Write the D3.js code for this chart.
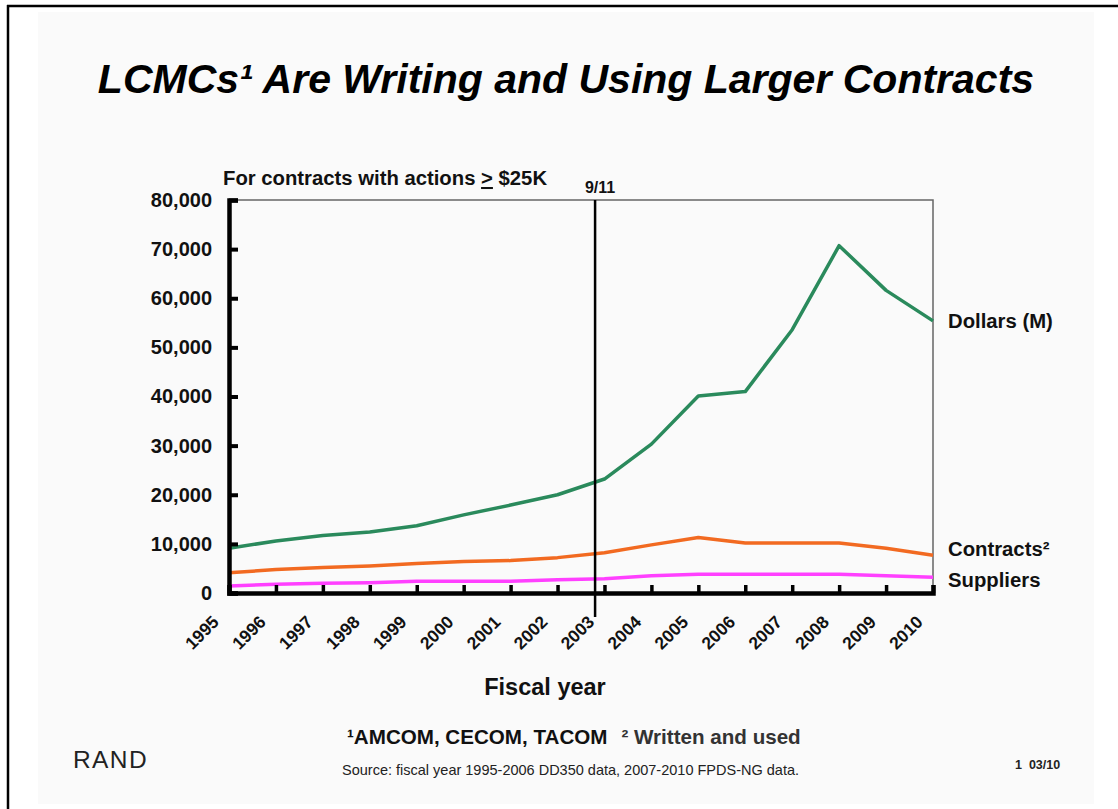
<!DOCTYPE html>
<html>
<head>
<meta charset="utf-8">
<script src="https://cdn.jsdelivr.net/npm/d3@7"></script>
<style>
  html, body { margin: 0; padding: 0; background: #ffffff; }
  svg { display: block; font-family: "Liberation Sans", Arial, sans-serif; }
</style>
</head>
<body>
<svg id="chart" width="1118" height="809"></svg>
<script>
// ---- data ----
const years = [1995,1996,1997,1998,1999,2000,2001,2002,2003,2004,2005,2006,2007,2008,2009,2010];
const dollars   = [9100,10600,11700,12400,13700,15900,17900,20000,23200,30300,40100,41000,53600,70700,61600,55400];
const contracts = [4100,4800,5200,5500,6000,6400,6600,7200,8200,9800,11300,10200,10200,10200,9100,7700];
const suppliers = [1400,1800,2000,2100,2400,2400,2400,2700,2900,3500,3800,3800,3800,3800,3500,3200];
const yTicks = [0,10000,20000,30000,40000,50000,60000,70000,80000];
const seriesNames = ["Dollars (M)", "Contracts\u00B2", "Suppliers"];
const nineElevenPos = 2002.8;

const svg = d3.select("#chart");

// frame + panel
svg.append("rect").attr("x", 38).attr("y", 12).attr("width", 1056).attr("height", 792).attr("fill", "#fafafa");
svg.append("line").attr("x1", 7).attr("x2", 1118).attr("y1", 6).attr("y2", 6).attr("stroke", "#000").attr("stroke-width", 2.5);
svg.append("line").attr("x1", 8).attr("x2", 8).attr("y1", 5).attr("y2", 809).attr("stroke", "#000").attr("stroke-width", 2.5);

// title
svg.append("text").attr("x", 566).attr("y", 93).attr("text-anchor", "middle")
  .attr("font-size", 41).attr("font-weight", "bold").attr("font-style", "italic").attr("fill", "#000")
  .text("LCMCs\u00B9 Are Writing and Using Larger Contracts");

// scales
const m = {left: 229, right: 933, top: 200, bottom: 593};
const x = d3.scaleLinear().domain([1995, 2010]).range([m.left, m.right]);
const y = d3.scaleLinear().domain([0, 80000]).range([m.bottom, m.top]);

// plot frame (thin top/right)
svg.append("path").attr("d", `M${m.left},${m.top}H${m.right}V${m.bottom}`)
  .attr("fill", "none").attr("stroke", "#666").attr("stroke-width", 1.5);

// subtitle
const sub = svg.append("text").attr("x", 223).attr("y", 185).attr("font-size", 20.3).attr("font-weight", "bold").attr("fill", "#111");
sub.append("tspan").text("For contracts with actions ");
sub.append("tspan").attr("text-decoration", "underline").text(">");
sub.append("tspan").text(" $25K");

// lines
const line = d3.line().x((d, i) => x(years[i])).y(d => y(d));
const seriesData = [dollars, contracts, suppliers];
const colors = ["#2a8a5c", "#f26a21", "#ff40ff"];
seriesData.slice().reverse().forEach((s, k) => {
  const idx = 2 - k;
  svg.append("path").datum(s).attr("d", line).attr("fill", "none")
    .attr("stroke", colors[idx]).attr("stroke-width", 3.5).attr("stroke-linejoin", "round");
});

// y axis
const yAxis = d3.axisLeft(y).tickValues(yTicks).tickFormat(d3.format(",")).tickSize(-9).tickPadding(17);
const gy = svg.append("g").attr("transform", `translate(${m.left},0)`).call(yAxis);
gy.select(".domain").attr("stroke", "#000").attr("stroke-width", 4.5);
gy.selectAll(".tick line").attr("stroke", "#000").attr("stroke-width", 4);
gy.selectAll(".tick text").attr("font-size", 20).attr("font-weight", "bold").attr("fill", "#111")
  .attr("font-family", "Liberation Sans, Arial, sans-serif");

// x axis
const xAxis = d3.axisBottom(x).tickValues(years).tickFormat(d3.format("d")).tickSize(-8);
const gx = svg.append("g").attr("transform", `translate(0,${m.bottom})`).call(xAxis);
gx.select(".domain").attr("stroke", "#000").attr("stroke-width", 4.5);
gx.selectAll(".tick line").attr("stroke", "#000").attr("stroke-width", 3.5);
gx.selectAll(".tick text").attr("font-size", 17.5).attr("font-weight", "bold").attr("fill", "#111")
  .attr("font-family", "Liberation Sans, Arial, sans-serif")
  .attr("text-anchor", "end").attr("y", 0).attr("dy", 0)
  .attr("transform", "translate(-9.5,30) rotate(-45)");

// 9/11 marker
svg.append("line").attr("x1", x(nineElevenPos)).attr("x2", x(nineElevenPos))
  .attr("y1", m.top).attr("y2", 617).attr("stroke", "#000").attr("stroke-width", 2.5);
svg.append("text").attr("x", x(nineElevenPos) + 5).attr("y", 193).attr("text-anchor", "middle")
  .attr("font-size", 16).attr("font-weight", "bold").attr("fill", "#111").text("9/11");

// series labels
const lastIdx = years.length - 1;
const labelOffsets = [0, -6, 3];
seriesNames.forEach((n, i) => {
  svg.append("text").attr("x", x(2010) + 15).attr("y", y(seriesData[i][lastIdx]) + labelOffsets[i])
    .attr("dy", "0.35em").attr("font-size", 20.3).attr("font-weight", "bold").attr("fill", "#111").text(n);
});

// axis title
svg.append("text").attr("x", 545).attr("y", 695).attr("text-anchor", "middle")
  .attr("font-size", 23.5).attr("font-weight", "bold").attr("fill", "#111").text("Fiscal year");

// footnotes
const fn = svg.append("text").attr("x", 347).attr("y", 744).attr("font-size", 20.6).attr("font-weight", "bold");
fn.append("tspan").attr("fill", "#111").text("\u00B9AMCOM, CECOM, TACOM");
fn.append("tspan").attr("fill", "#333").attr("dx", 14).text("\u00B2 Written and used");

svg.append("text").attr("x", 342).attr("y", 775).attr("font-size", 14.5).attr("fill", "#222")
  .text("Source: fiscal year 1995-2006 DD350 data, 2007-2010 FPDS-NG data.");

svg.append("text").attr("x", 73).attr("y", 768).attr("font-size", 24.5).attr("letter-spacing", 1.4)
  .attr("fill", "#222").text("RAND");

svg.append("text").attr("x", 1015).attr("y", 769).attr("font-size", 12.5).attr("font-weight", "bold")
  .attr("fill", "#222").attr("xml:space", "preserve").text("1  03/10");
</script>
</body>
</html>
